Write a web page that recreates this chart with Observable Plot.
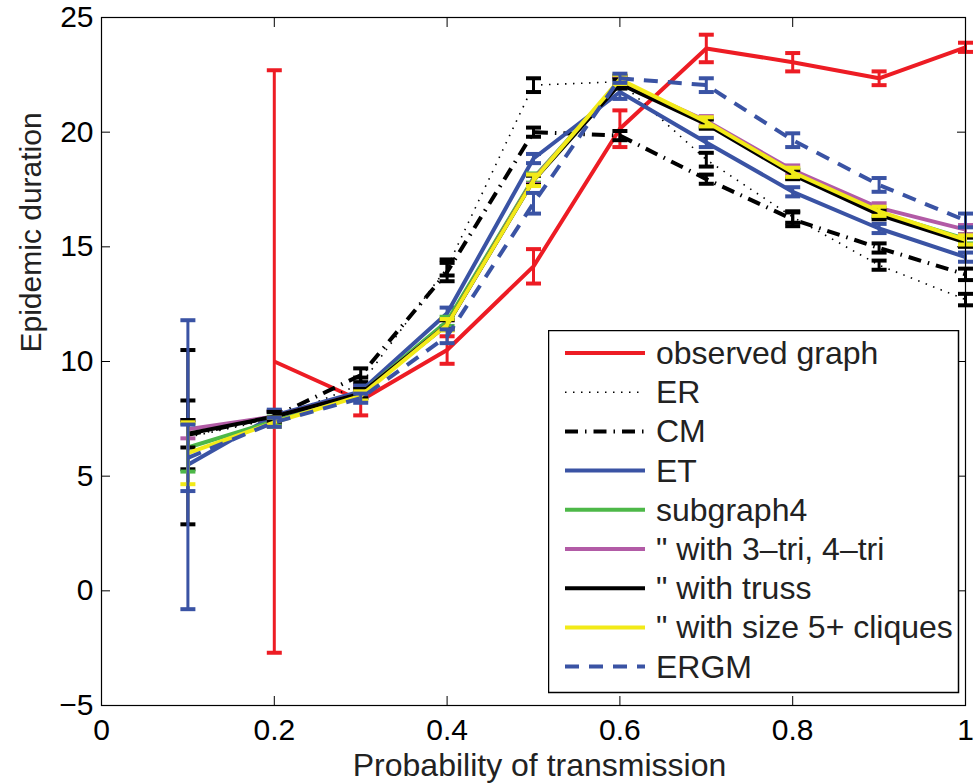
<!DOCTYPE html>
<html><head><meta charset="utf-8">
<script src="https://cdn.jsdelivr.net/npm/d3@7"></script>
<script src="https://cdn.jsdelivr.net/npm/@observablehq/plot@0.6"></script>
<style>
body{margin:0;background:#fff;}
#wrap{position:relative;width:975px;height:784px;font-family:"Liberation Sans",Arial,Helvetica,sans-serif;}
#legend{position:absolute;left:548px;top:330px;}
</style></head><body><div id="wrap"></div>
<script>
// ---- data ----
const probability = [0.1, 0.2, 0.3, 0.4, 0.5, 0.6, 0.7, 0.8, 0.9, 1.0];
const xTicks = [0, 0.2, 0.4, 0.6, 0.8, 1];
const yTicks = [-5, 0, 5, 10, 15, 20, 25];

const observedMean = [null, 10.0, 8.3, 10.5, 14.15, 20.15, 23.65, 23.05, 22.35, 23.7];
const observedErr  = [null, 12.7, 0.65, 0.6, 0.75, 0.8, 0.6, 0.4, 0.3, 0.2];
const erMean  = [6.7, 7.5, 9.0, 14.1, 22.05, 22.2, 18.8, 16.3, 14.2, 12.7];
const erErr   = [3.8, 0.3, 0.3, 0.35, 0.3, 0.25, 0.3, 0.25, 0.2, 0.25];
const cmMean  = [6.8, 7.6, 9.4, 13.9, 20.0, 19.85, 17.95, 16.2, 14.95, 13.8];
const cmErr   = [1.5, 0.25, 0.3, 0.4, 0.2, 0.2, 0.2, 0.3, 0.2, 0.25];
const etMean  = [5.5, 7.65, 8.7, 12.1, 18.85, 21.75, 19.55, 17.4, 15.8, 14.55];
const etErr   = [6.3, 0.25, 0.25, 0.25, 0.2, 0.3, 0.2, 0.2, 0.2, 0.2];
const sub4Mean = [6.25, 7.4, 8.6, 11.75, 18.0, 22.2, 20.4, 18.2, 16.5, 15.35];
const sub4Err  = [1.05, 0.2, 0.2, 0.2, 0.2, 0.2, 0.2, 0.2, 0.2, 0.2];
const triMean  = [7.05, 7.6, 8.6, 11.6, 17.95, 22.2, 20.5, 18.35, 16.7, 15.75];
const triErr   = [0.4, 0.2, 0.2, 0.2, 0.2, 0.2, 0.2, 0.2, 0.2, 0.2];
const trussMean = [6.85, 7.6, 8.6, 11.6, 17.9, 22.1, 20.35, 18.15, 16.4, 15.2];
const trussErr  = [0.6, 0.2, 0.2, 0.2, 0.2, 0.2, 0.2, 0.2, 0.2, 0.2];
const cliqueMean = [6.0, 7.35, 8.5, 11.6, 17.9, 22.3, 20.45, 18.25, 16.55, 15.3];
const cliqueErr  = [1.35, 0.2, 0.2, 0.25, 0.25, 0.2, 0.2, 0.2, 0.2, 0.2];
const ergmMean = [5.8, 7.35, 8.4, 11.1, 16.9, 22.35, 22.05, 19.65, 17.7, 16.15];
const ergmErr  = [1.45, 0.2, 0.2, 0.3, 0.45, 0.2, 0.3, 0.3, 0.3, 0.3];

const seriesNames = ["observed graph", "ER", "CM", "ET", "subgraph4", "\" with 3\u2013tri, 4\u2013tri", "\" with truss", "\" with size 5+ cliques", "ERGM"];
const seriesMeans = [observedMean, erMean, cmMean, etMean, sub4Mean, triMean, trussMean, cliqueMean, ergmMean];
const seriesErrs  = [observedErr, erErr, cmErr, etErr, sub4Err, triErr, trussErr, cliqueErr, ergmErr];

// ---- styles ----
const styles = [
  {color: "#ed1c24", dash: null, width: 4},
  {color: "#000000", dash: "1.5,6.5", width: 1.6},
  {color: "#000000", dash: "13,7,1.5,7", width: 4},
  {color: "#3a53a4", dash: null, width: 4},
  {color: "#4db848", dash: null, width: 4},
  {color: "#b25ba6", dash: null, width: 4},
  {color: "#000000", dash: null, width: 4},
  {color: "#f2ea18", dash: null, width: 4},
  {color: "#3a53a4", dash: "14,10", width: 4}
];

const rows = [];
seriesNames.forEach((name, s) => {
  probability.forEach((p, i) => {
    const m = seriesMeans[s][i];
    if (m == null) return;
    const e = seriesErrs[s][i];
    rows.push({series: name, s, x: p, y: m, lo: m - e, hi: m + e});
  });
});

const cap = {draw(ctx, size) { const r = Math.sqrt(size / Math.PI); ctx.moveTo(-r, 0); ctx.lineTo(r, 0); }};

const marks = [];
seriesNames.forEach((name, s) => {
  const st = styles[s];
  const d = rows.filter(r => r.s === s);
  marks.push(Plot.line(d, {x: "x", y: "y", stroke: st.color, strokeWidth: st.width, strokeDasharray: st.dash, strokeLinejoin: "miter", strokeLinecap: "butt"}));
  marks.push(Plot.ruleX(d, {x: "x", y1: "lo", y2: "hi", stroke: st.color, strokeWidth: 3}));
  marks.push(Plot.dot(d, {x: "x", y: "lo", symbol: cap, r: 7.5, stroke: st.color, strokeWidth: 4}));
  marks.push(Plot.dot(d, {x: "x", y: "hi", symbol: cap, r: 7.5, stroke: st.color, strokeWidth: 4}));
});

const fmtY = d => d < 0 ? "\u2212" + Math.abs(d) : String(d);
const blank = () => "";

const chart = Plot.plot({
  width: 975, height: 784,
  marginLeft: 101, marginRight: 10, marginTop: 17, marginBottom: 79,
  style: {fontFamily: "'Liberation Sans', Arial, Helvetica, sans-serif", fontSize: "30px", background: "white", color: "black", overflow: "visible"},
  x: {domain: [0, 1]},
  y: {domain: [-5, 25]},
  marks: [
    Plot.axisX(xTicks, {anchor: "bottom", tickSize: 0, tickPadding: 13, fontSize: 30, tickFormat: d3.format("~g"), label: null}),
    Plot.axisX(xTicks, {anchor: "bottom", tickSize: -9, tickFormat: blank, label: null}),
    Plot.axisX(xTicks, {anchor: "top", tickSize: -9, tickFormat: blank, label: null}),
    Plot.axisY(yTicks, {anchor: "left", tickSize: 0, tickPadding: 8, fontSize: 30, tickFormat: fmtY, label: null}),
    Plot.axisY(yTicks, {anchor: "left", tickSize: -9, tickFormat: blank, label: null}),
    Plot.axisY(yTicks, {anchor: "right", tickSize: -9, tickFormat: blank, label: null}),
    ...marks,
    Plot.frame({stroke: "black", strokeWidth: 1.2}),
    Plot.text(["Probability of transmission"], {frameAnchor: "bottom", dx: 6, dy: 60, fontSize: 32, lineAnchor: "middle", fill: "#222"}),
    Plot.text(["Epidemic duration"], {frameAnchor: "left", dx: -70, dy: -9, rotate: -90, fontSize: 30, lineAnchor: "middle", fill: "#222"})
  ]
});
document.getElementById("wrap").appendChild(chart);

// ---- legend (overlay inside plot area) ----
const lg = d3.select("#wrap").append("div").attr("id", "legend")
  .append("svg").attr("width", 412).attr("height", 364);
lg.append("rect").attr("x", 0.5).attr("y", 0.5).attr("width", 410).attr("height", 362)
  .attr("fill", "white").attr("stroke", "black").attr("stroke-width", 1.5);
seriesNames.forEach((name, i) => {
  const st = styles[i];
  const cy = 23 + 39.2 * i;
  lg.append("line").attr("x1", 17).attr("x2", 97).attr("y1", cy).attr("y2", cy)
    .attr("stroke", st.color).attr("stroke-width", st.width).attr("stroke-dasharray", st.dash);
  lg.append("text").attr("x", 108).attr("y", cy + 11).text(name)
    .attr("font-size", 32).attr("fill", "#222")
    .attr("font-family", "'Liberation Sans', Arial, Helvetica, sans-serif");
});
</script></body></html>
